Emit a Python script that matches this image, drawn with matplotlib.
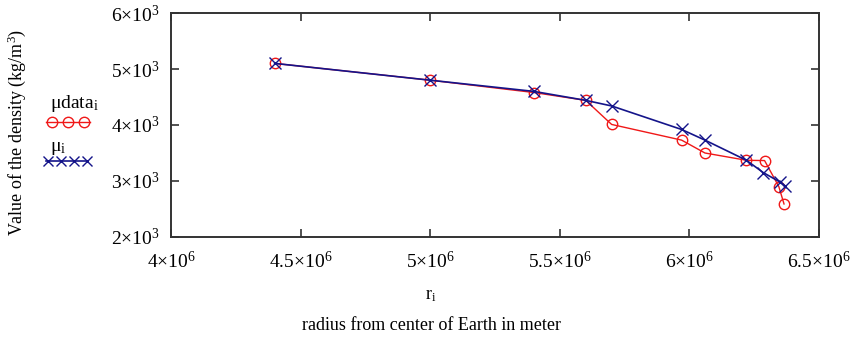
import matplotlib
matplotlib.use("Agg")
import matplotlib.pyplot as plt
from matplotlib.lines import Line2D

plt.rcParams['font.family'] = ['Liberation Serif', 'DejaVu Serif']
plt.rcParams['mathtext.fontset'] = 'custom'
plt.rcParams['mathtext.rm'] = 'Liberation Serif'
plt.rcParams['mathtext.it'] = 'Liberation Serif:italic'

# Data
r_data = [4.4e6, 5.0e6, 5.4e6, 5.6e6, 5.7e6, 5.97e6, 6.06e6, 6.22e6, 6.29e6, 6.345e6, 6.365e6]
mu_data = [5100, 4800, 4580, 4440, 4010, 3730, 3500, 3370, 3365, 2900, 2590]
r_model = [4.4e6, 5.0e6, 5.4e6, 5.6e6, 5.7e6, 5.97e6, 6.06e6, 6.22e6, 6.285e6, 6.35e6, 6.37e6]
mu_model = [5100, 4800, 4600, 4440, 4340, 3920, 3730, 3370, 3150, 2980, 2910]

x_ticks = [4.0e6, 4.5e6, 5.0e6, 5.5e6, 6.0e6, 6.5e6]
x_labels = [r'$\mathregular{4{\times}10^{6}}$', r'$\mathregular{4.5{\times}10^{6}}$',
            r'$\mathregular{5{\times}10^{6}}$', r'$\mathregular{5.5{\times}10^{6}}$',
            r'$\mathregular{6{\times}10^{6}}$', r'$\mathregular{6.5{\times}10^{6}}$']
y_ticks = [2000, 3000, 4000, 5000, 6000]
y_labels = [r'$\mathregular{2{\times}10^{3}}$', r'$\mathregular{3{\times}10^{3}}$',
            r'$\mathregular{4{\times}10^{3}}$', r'$\mathregular{5{\times}10^{3}}$',
            r'$\mathregular{6{\times}10^{3}}$']

RED = '#f01818'
BLUE = '#14148a'

W, H = 863, 337
fig = plt.figure(figsize=(W / 100, H / 100), dpi=100)
ax = fig.add_axes([171 / W, 1 - 237 / H, (819 - 171) / W, (237 - 13) / H])

ax.plot(r_data, mu_data, color=RED, lw=1.0, marker='o', ms=7.5, mfc='none', mec=RED, mew=1.0)
ax.plot(r_model, mu_model, color=BLUE, lw=1.2, marker='x', ms=8, mec=BLUE, mew=1.0)

ax.set_xlim(4.0e6, 6.5e6)
ax.set_ylim(2000, 6000)
ax.set_xticks(x_ticks)
ax.set_xticklabels(x_labels)
ax.set_yticks(y_ticks)
ax.set_yticklabels(y_labels)
ax.tick_params(direction='in', length=6, width=1.2, top=True, right=True,
               labelsize=14, colors='#333333', labelcolor='black')
ax.tick_params(axis='x', pad=10)
ax.tick_params(axis='y', pad=8)
for s in ax.spines.values():
    s.set_linewidth(1.4)
    s.set_color('#333333')

fig.text(431 / W, 1 - 296 / H, r'$\mathregular{r_{i}}$', ha='center', va='center', fontsize=13)
fig.text(431 / W, 1 - 325 / H, 'radius from center of Earth in meter', ha='center', va='center', fontsize=13)
fig.text(17 / W, 1 - 132 / H, r'Value of the density (kg/m$^{\mathregular{3}}$)', rotation=90,
         ha='center', va='center', fontsize=13)

# Legend drawn manually
fig.text(50 / W, 1 - 104 / H, r'$\mathregular{\mu data_{i}}$', ha='left', va='center', fontsize=14)
fig.add_artist(Line2D([46 / W, 90 / W], [1 - 122 / H] * 2, color=RED, lw=1.0, transform=fig.transFigure))
fig.add_artist(Line2D([52 / W, 68 / W, 84 / W], [1 - 122 / H] * 3, color=RED, lw=0, marker='o', ms=7.5,
                      mfc='none', mec=RED, mew=1.0, transform=fig.transFigure))
fig.text(50 / W, 1 - 148 / H, r'$\mathregular{\mu_{i}}$', ha='left', va='center', fontsize=14)
fig.add_artist(Line2D([46 / W, 88 / W], [1 - 161 / H] * 2, color=BLUE, lw=1.2, transform=fig.transFigure))
fig.add_artist(Line2D([48 / W, 61 / W, 74 / W, 87 / W], [1 - 161 / H] * 4, color=BLUE, lw=0, marker='x', ms=7,
                      mec=BLUE, mew=1.0, transform=fig.transFigure))

fig.savefig('out.png', dpi=100)
